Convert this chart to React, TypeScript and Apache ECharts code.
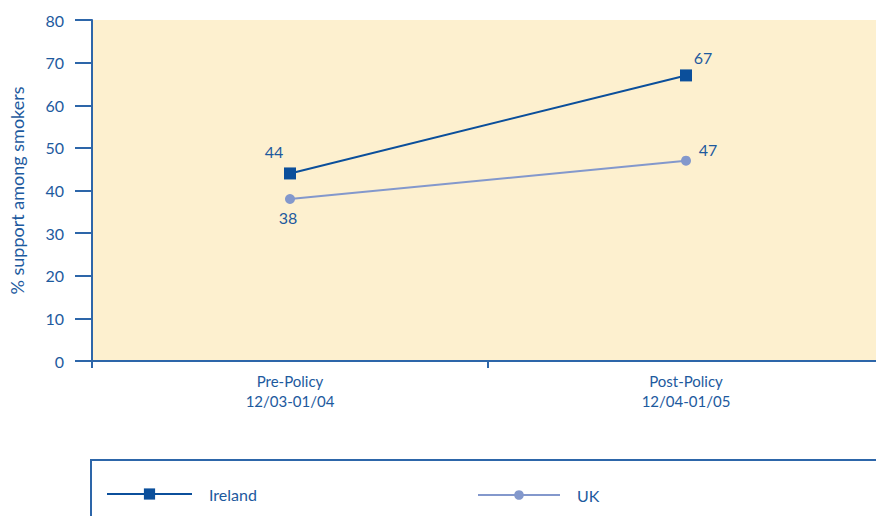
import React, { useEffect, useRef } from "react";
import * as echarts from "echarts";

const categories = ["Pre-Policy\n12/03-01/04", "Post-Policy\n12/04-01/05"];
const irelandValues = [44, 67];
const ukValues = [38, 47];
const yTicks = { min: 0, max: 80, interval: 10 };

const TEXT = "#1d5a9e";
const AXIS = "#2d66a9";
const IRELAND = "#0b4f9b";
const UK = "#8398cc";
const FONT = "Lato, 'Open Sans', sans-serif";

export default function App() {
  const ref = useRef<HTMLDivElement>(null);

  useEffect(() => {
    if (!ref.current) return;
    const chart = echarts.init(ref.current, undefined, { renderer: "svg" });
    chart.setOption({
      animation: false,
      textStyle: { fontFamily: FONT },
      grid: { left: 90, right: -2, top: 20, bottom: 163, show: true, backgroundColor: "#fdf0cf", borderWidth: 0 },
      xAxis: {
        type: "category",
        data: categories,
        boundaryGap: true,
        axisLine: { lineStyle: { color: AXIS, width: 2 } },
        axisTick: { show: true, length: 7, lineStyle: { color: AXIS, width: 2 } },
        axisLabel: { color: TEXT, fontSize: 15, lineHeight: 20, margin: 10, fontFamily: FONT },
      },
      yAxis: {
        type: "value",
        min: yTicks.min,
        max: yTicks.max,
        interval: yTicks.interval,
        name: "% support among smokers",
        nameLocation: "middle",
        nameGap: 66,
        nameTextStyle: { color: TEXT, fontSize: 18, fontFamily: FONT },
        axisLine: { show: true, lineStyle: { color: AXIS, width: 2 } },
        axisTick: { show: true, length: 17, lineStyle: { color: AXIS, width: 2 } },
        axisLabel: { color: TEXT, fontSize: 16, margin: 28, fontFamily: FONT },
        splitLine: { show: false },
      },
      legend: [
        {
          data: ["Ireland"],
          left: 101,
          top: 481,
          itemWidth: 85,
          itemHeight: 14,
          itemGap: 0,
          textStyle: { color: TEXT, fontSize: 16, fontFamily: FONT, padding: [0, 0, 6, 12] },
        },
        {
          data: ["UK"],
          left: 472,
          top: 482,
          itemWidth: 82,
          itemHeight: 12,
          itemGap: 0,
          textStyle: { color: TEXT, fontSize: 16, fontFamily: FONT, padding: [0, 0, 6, 12] },
        },
      ],
      graphic: [
        {
          type: "rect",
          shape: { x: 91, y: 460, width: 900, height: 120 },
          style: { fill: "none", stroke: AXIS, lineWidth: 2 },
          silent: true,
        },
      ],
      series: [
        {
          name: "Ireland",
          type: "line",
          data: irelandValues,
          symbol: "rect",
          symbolSize: 12,
          itemStyle: { color: IRELAND },
          lineStyle: { color: IRELAND, width: 2 },
          label: {
            show: true,
            color: TEXT,
            fontSize: 16,
            fontFamily: FONT,
            position: "top",
            formatter: (p: any) => String(p.value),
          },
          labelLayout: (p: any) => {
            const offsets = [[-16, -3], [17, 1]];
            const o = offsets[p.dataIndex];
            return { x: p.labelRect.x + o[0], y: p.labelRect.y + o[1] };
          },
        },
        {
          name: "UK",
          type: "line",
          data: ukValues,
          symbol: "circle",
          symbolSize: 10,
          itemStyle: { color: UK },
          lineStyle: { color: UK, width: 2 },
          label: {
            show: true,
            color: TEXT,
            fontSize: 16,
            fontFamily: FONT,
            position: "bottom",
            formatter: (p: any) => String(p.value),
          },
          labelLayout: (p: any) => {
            const offsets = [[-2, 0], [22, -29]];
            const o = offsets[p.dataIndex];
            return { x: p.labelRect.x + o[0], y: p.labelRect.y + o[1] };
          },
        },
      ],
    });
    return () => chart.dispose();
  }, []);

  return <div ref={ref} style={{ width: 884, height: 524, margin: -8 }} />;
}
